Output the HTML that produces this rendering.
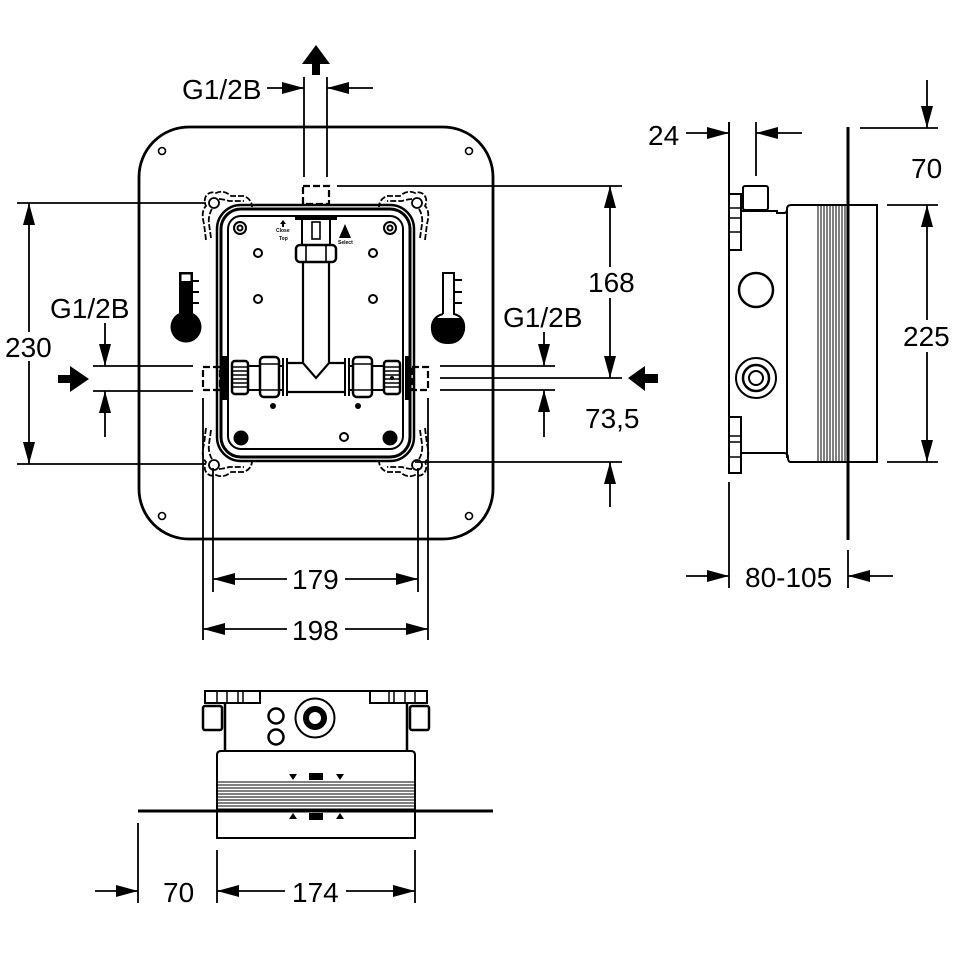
<!DOCTYPE html>
<html><head><meta charset="utf-8"><style>
html,body{margin:0;padding:0;background:#fff;}
svg{display:block;}
text{font-family:"Liberation Sans",Arial,sans-serif;font-size:28px;fill:#000;stroke:none;}
.s{font-size:5px;font-weight:bold;}
</style></head><body>
<svg width="960" height="960" viewBox="0 0 960 960" xmlns="http://www.w3.org/2000/svg">
<rect width="960" height="960" fill="#fff"/>

<!-- ============ FRONT VIEW ============ -->
<g fill="none" stroke="#000">
  <rect x="139" y="127" width="354" height="412" rx="50" stroke-width="2.8"/>
  <g stroke-width="1.6">
    <circle cx="162" cy="151" r="3.5"/><circle cx="469" cy="151" r="3.5"/>
    <circle cx="162" cy="516" r="3.5"/><circle cx="469" cy="516" r="3.5"/>
  </g>
  <!-- inner box -->
  <rect x="217" y="205" width="197" height="256" rx="24" stroke-width="2.5"/>
  <rect x="221" y="209" width="189" height="248" rx="20" stroke-width="3"/>
  <rect x="228" y="216" width="175" height="233" rx="13" stroke-width="2"/>
  <!-- lugs -->
  <g id="lug" stroke-width="1.8">
    <circle cx="214" cy="203" r="5"/>
    <path d="M206,240 L204,224 C202,216 202,210 206,206 C202,198 208,190 216,193 C222,190 228,193 231,196 L244,196 C249,198 252,202 252,207" stroke-dasharray="6 2"/>
    <path d="M211,238 L209,224 C208,218 210,212 212,209 M219,199 C222,199 226,200 229,201 L244,201" stroke-dasharray="6 2"/>
  </g>
  <use href="#lug" transform="matrix(-1,0,0,1,631,0)"/>
  <use href="#lug" transform="matrix(1,0,0,-1,0,668)"/>
  <use href="#lug" transform="matrix(-1,0,0,-1,631,668)"/>
  <!-- dashed squares -->
  <g stroke-width="2.2" stroke-dasharray="7 3">
    <rect x="303" y="186" width="26" height="18"/>
    <rect x="203" y="367" width="17" height="23"/>
    <rect x="412" y="367" width="16" height="23"/>
  </g>
  <!-- top connection -->
  <rect x="295" y="215" width="42" height="5" fill="#000" stroke="none"/>
  <rect x="302" y="217" width="28" height="28" stroke-width="2"/>
  <rect x="312" y="222" width="8" height="17" stroke-width="1.6"/>
  <rect x="296" y="245" width="40" height="17" rx="4" stroke-width="2.5"/>
  <path d="M306,246V261 M326,246V261" stroke-width="1.6"/>
  <path d="M303,262V363 M329,262V363" stroke-width="2.2"/>
  <path d="M303,363 L316,378 L329,363 M287,363H303 M329,363H345 M287,392H345" stroke-width="2.2"/>
  <path d="M283,358V396 M287,358V396 M345,358V396 M349,358V396" stroke-width="2"/>
  <!-- left nuts -->
  <g id="nuts">
    <rect x="260" y="357" width="19" height="40" rx="4" stroke-width="2.5"/>
    <path d="M261,364H278 M261,390H278" stroke-width="1.5"/>
    <rect x="232" y="361" width="16" height="33" rx="3" stroke-width="2.5"/>
    <path d="M233,367H247 M233,371H247 M233,375H247 M233,379H247 M233,383H247 M233,387H247" stroke-width="1.5"/>
    <path d="M248,366H260 M248,390H260 M279,366H283 M279,390H283" stroke-width="2"/>
    <rect x="222" y="356" width="5" height="44" fill="#000" stroke="none"/>
  </g>
  <use href="#nuts" transform="matrix(-1,0,0,1,632,0)"/>
  <!-- holes -->
  <g stroke-width="2">
    <circle cx="240" cy="228" r="6"/><circle cx="240" cy="228" r="2.5"/>
    <circle cx="390" cy="228" r="6"/><circle cx="390" cy="228" r="2.5"/>
    <circle cx="258" cy="253" r="4"/><circle cx="373" cy="253" r="4"/>
    <circle cx="258" cy="299" r="4"/><circle cx="373" cy="299" r="4"/>
    <circle cx="344" cy="437" r="4"/>
  </g>
  <g fill="#000" stroke="none">
    <circle cx="241" cy="438" r="7.5"/><circle cx="390" cy="438" r="7.5"/>
    <circle cx="273" cy="406" r="3"/><circle cx="358" cy="406" r="3"/>
    <circle cx="392" cy="378" r="2"/>
    <path d="M345,224 L339,238 H351 Z"/>
    <path d="M283,220 l-3,4 h2 v3 h2 v-3 h2 z"/>
  </g>
  <!-- thermometers -->
  <rect x="180" y="273" width="12" height="44" fill="#000" stroke="#000" stroke-width="2"/>
  <rect x="181.5" y="274.5" width="9" height="6.5" fill="#fff" stroke="none"/>
  <circle cx="186" cy="327" r="15.5" fill="#000" stroke="none"/>
  <path d="M192,281H199 M192,292H199 M192,303H199" stroke-width="2"/>
  <path d="M443,314V273H454V314 C462,316 465,322 464,330 C462,340 455,343 448,343 C441,343 433,340 432,330 C431,322 435,316 443,314" fill="#fff" stroke-width="2"/>
  <path d="M434.8,318 A16,16 0 1 0 461.2,318 Z" fill="#000" stroke="none"/>
  <path d="M454,280H462 M454,292H462 M454,303H462" stroke-width="2"/>
</g>
<text class="s" x="276" y="232">Close</text>
<text class="s" x="279" y="240">Top</text>
<text class="s" x="338" y="244">Select</text>

<!-- ============ SIDE VIEW ============ -->
<g fill="none" stroke="#000" stroke-width="2">
  <path d="M729,122V473"/>
  <rect x="729" y="194" width="12" height="56"/>
  <path d="M729,208H741 M729,218H741 M729,232H741" stroke-width="1.5"/>
  <rect x="729" y="417" width="12" height="56"/>
  <path d="M729,436H741 M729,442H741 M729,457H741" stroke-width="1.5"/>
  <rect x="743" y="186" width="25" height="24" rx="2"/>
  <path d="M741,211H777 V213 H784 Q787,213 787,209 Q787,205 791,205 H877 V462 H791 Q788,462 788,458 Q788,453 784,453 H741"/>
  <path d="M787,209V458"/>
  <g stroke-width="1">
    <path d="M818,205V462 M821,205V462 M824,205V462 M827,205V462 M830,205V462 M833,205V462 M836,205V462 M839,205V462 M842,205V462 M845,205V462"/>
  </g>
  <path d="M848,127V540" stroke-width="3"/>
  <circle cx="756" cy="290" r="17" stroke-width="2.5"/>
  <circle cx="756" cy="378" r="20"/>
  <circle cx="756" cy="378" r="13" stroke-width="2.5"/>
  <circle cx="756" cy="378" r="7"/>
</g>

<!-- ============ BOTTOM VIEW ============ -->
<g fill="none" stroke="#000" stroke-width="2">
  <path d="M205,691H427"/>
  <rect x="205" y="691" width="55" height="12"/>
  <rect x="370" y="691" width="57" height="12"/>
  <path d="M217,691V703 M227,691V703 M238,691V703 M243,691V703 M389,691V703 M394,691V703 M405,691V703 M415,691V703" stroke-width="1.5"/>
  <rect x="203" y="706" width="19" height="24" rx="2" stroke-width="2.5"/>
  <rect x="410" y="706" width="19" height="24" rx="2" stroke-width="2.5"/>
  <path d="M225,703V751 M407,703V751" stroke-width="2.5"/>
  <path d="M217,838V755 Q217,751 221,751 H411 Q415,751 415,755 V838 Z"/>
  <g stroke-width="1">
    <path d="M217,782H415 M217,785H415 M217,788H415 M217,791H415 M217,794H415 M217,797H415 M217,800H415 M217,803H415 M217,806H415 M217,809H415"/>
  </g>
  <path d="M138,811H493" stroke-width="3"/>
  <circle cx="276" cy="716" r="7.5" stroke-width="2.5"/>
  <circle cx="276" cy="737" r="7.5" stroke-width="2.5"/>
  <circle cx="315" cy="718" r="19.5"/>
  <circle cx="315" cy="718" r="9" stroke-width="6"/>
</g>
<g fill="#000">
  <path d="M289,774H297L293,780Z M336,774H344L340,780Z M289,819H297L293,813Z M336,819H344L340,813Z"/>
  <rect x="309" y="773" width="14" height="7"/>
  <rect x="309" y="813" width="14" height="7"/>
</g>

<!-- ============ DIMENSIONS ============ -->
<g fill="none" stroke="#000" stroke-width="1.8">
  <path d="M304,77V177 M327,77V177 M267,88H304 M327,88H373"/>
  <path d="M17,203H206 M17,464H206 M29,203V332 M29,361V464"/>
  <path d="M93,366H193 M93,391H193 M105,323V366 M105,391V437"/>
  <path d="M337,186H622 M610,186V267 M610,298V378"/>
  <path d="M440,366H555 M440,390H555 M440,378H622 M544,332V366 M544,390V437"/>
  <path d="M415,462H622 M610,462V507"/>
  <path d="M213,468V592 M418,468V592 M203,398V640 M428,398V640"/>
  <path d="M213,579H287 M345,579H418 M203,629H287 M345,629H428"/>
  <path d="M686,133H729 M756,133H802 M756,122V176"/>
  <path d="M860,128H938 M927,80V128 M887,205H938 M887,462H938 M927,205V320 M927,352V462"/>
  <path d="M729,482V588 M848,550V588 M686,576H729 M848,576H893"/>
  <path d="M138,823V903 M95,891H138 M217,850V903 M415,850V903 M217,891H285 M346,891H415"/>
</g>
<g fill="#000" stroke="none">
  <polygon points="304,88 282,82 282,94"/>
  <polygon points="327,88 349,82 349,94"/>
  <polygon points="29,203 23,225 35,225"/>
  <polygon points="29,464 23,442 35,442"/>
  <polygon points="105,366 99,344 111,344"/>
  <polygon points="105,391 99,413 111,413"/>
  <polygon points="610,186 604,208 616,208"/>
  <polygon points="610,378 604,356 616,356"/>
  <polygon points="544,366 538,344 550,344"/>
  <polygon points="544,390 538,412 550,412"/>
  <polygon points="610,462 604,484 616,484"/>
  <polygon points="213,579 235,573 235,585"/>
  <polygon points="418,579 396,573 396,585"/>
  <polygon points="203,629 225,623 225,635"/>
  <polygon points="428,629 406,623 406,635"/>
  <polygon points="729,133 707,127 707,139"/>
  <polygon points="756,133 778,127 778,139"/>
  <polygon points="927,128 921,106 933,106"/>
  <polygon points="927,205 921,227 933,227"/>
  <polygon points="927,462 921,440 933,440"/>
  <polygon points="729,576 707,570 707,582"/>
  <polygon points="848,576 870,570 870,582"/>
  <polygon points="138,891 116,885 116,897"/>
  <polygon points="217,891 239,885 239,897"/>
  <polygon points="415,891 393,885 393,897"/>
  <polygon points="316,45 302,64 312,64 312,75 320,75 320,64 330,64"/>
  <polygon points="58,375 70,375 70,366 89,379 70,392 70,383 58,383"/>
  <polygon points="628,378 645,366 645,374 658,374 658,383 645,383 645,391"/>
</g>
<text x="182" y="99">G1/2B</text>
<text x="5" y="357">230</text>
<text x="50" y="318">G1/2B</text>
<text x="588" y="292">168</text>
<text x="503" y="327">G1/2B</text>
<text x="585" y="428">73,5</text>
<text x="292" y="589">179</text>
<text x="292" y="640">198</text>
<text x="648" y="145">24</text>
<text x="911" y="178">70</text>
<text x="903" y="346">225</text>
<text x="745" y="587">80-105</text>
<text x="163" y="902">70</text>
<text x="292" y="902">174</text>
</svg>
</body></html>
